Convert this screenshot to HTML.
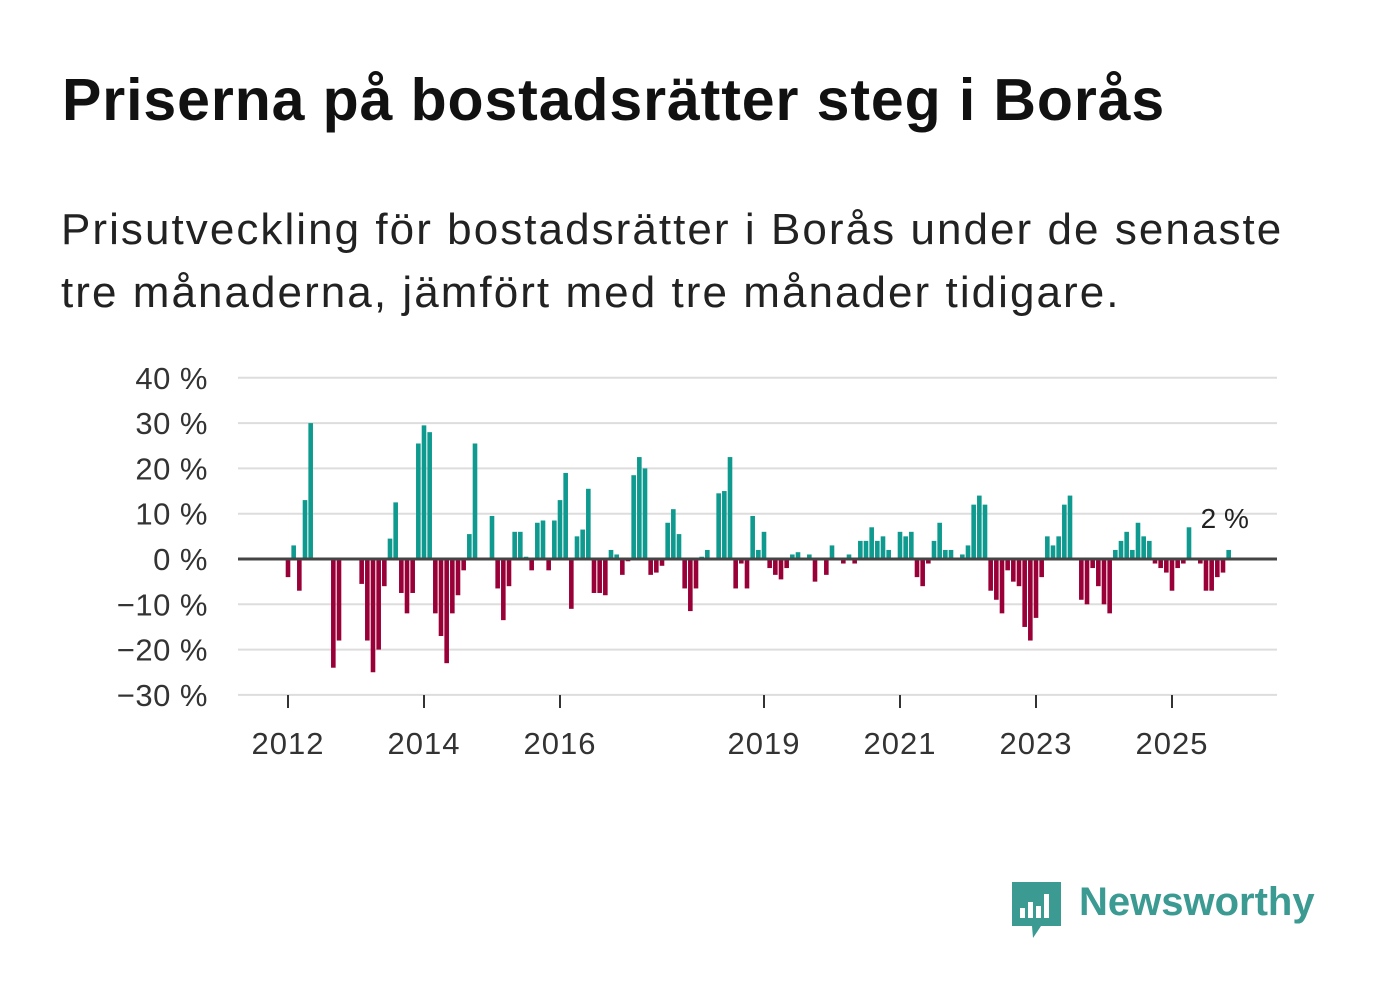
<!DOCTYPE html>
<html><head><meta charset="utf-8"><style>
body{margin:0;background:#fff;font-family:"Liberation Sans","DejaVu Sans",sans-serif;}
#wrap{position:relative;width:1382px;height:999px;overflow:hidden;}
h1{position:absolute;left:62px;top:66px;margin:0;font-size:59px;font-weight:bold;color:#111;letter-spacing:0.9px;white-space:nowrap;}
p{position:absolute;left:61px;top:198px;margin:0;font-size:44px;line-height:63px;color:#222;width:1320px;letter-spacing:2.05px;}
svg text{font-family:"Liberation Sans","DejaVu Sans",sans-serif;}
</style></head><body><div id="wrap">
<h1>Priserna på bostadsrätter steg i Borås</h1>
<p>Prisutveckling för bostadsrätter i Borås under de senaste<br>tre månaderna, jämfört med tre månader tidigare.</p>
<svg id="chart" width="1382" height="999" style="position:absolute;left:0;top:0"></svg>
<div style="position:absolute;left:1012px;top:880px;">
<svg width="50" height="60"><path d="M0 2 h49 v44 h-20 l-8 12 l-1-12 h-20z" fill="#3b9a92"/><rect x="8" y="28" width="5" height="10" fill="#fff"/><rect x="16" y="22" width="5" height="16" fill="#fff"/><rect x="24" y="26" width="5" height="12" fill="#fff"/><rect x="32" y="14" width="5" height="24" fill="#fff"/></svg>
<span style="position:absolute;left:67px;top:0;font-size:40px;font-weight:bold;color:#3b9a92;white-space:nowrap;">Newsworthy</span></div>
</div>
<script>
const values=[-4,3,-7,13,30,0,0,0,-24,-18,0,0,0,-5.5,-18,-25,-20,-6,4.5,12.5,-7.5,-12,-7.5,25.5,29.5,28,-12,-17,-23,-12,-8,-2.5,5.5,25.5,0,0,9.5,-6.5,-13.5,-6,6,6,0.5,-2.5,8,8.5,-2.5,8.5,13,19,-11,5,6.5,15.5,-7.5,-7.5,-8,2,1,-3.5,-0.5,18.5,22.5,20,-3.5,-3,-1.5,8,11,5.5,-6.5,-11.5,-6.5,0.5,2,0,14.5,15,22.5,-6.5,-1,-6.5,9.5,2,6,-2,-3.5,-4.5,-2,1,1.5,0,1,-5,0,-3.5,3,0,-1,1,-1,4,4,7,4,5,2,0,6,5,6,-4,-6,-1,4,8,2,2,0,1,3,12,14,12,-7,-9,-12,-2.5,-5,-6,-15,-18,-13,-4,5,3,5,12,14,0,-9,-10,-2,-6,-10,-12,2,4,6,2,8,5,4,-1,-2,-3,-7,-2,-1,7,0,-1,-7,-7,-4,-3,2];
const yTicks=[40,30,20,10,0,-10,-20,-30];
const xYears=[2012,2014,2016,2019,2021,2023,2025];
const startYear=2012;
const svg=document.getElementById('chart');
const NS='http://www.w3.org/2000/svg';
const y=v=>559-v*4.53;
const x=m=>288+m*(68/12);
const xy=yr=>x((yr-startYear)*12);
function mk(t,a){const e=document.createElementNS(NS,t);for(const k in a)e.setAttribute(k,a[k]);svg.appendChild(e);return e;}
yTicks.forEach(t=>{
 if(t!==0){const l=mk('line',{x1:238,x2:1277,y1:y(t),y2:y(t),stroke:'#ddd','stroke-width':2});
 
 }
 const tx=mk('text',{x:208,y:y(t)+11,'text-anchor':'end','font-size':31,fill:'#333','letter-spacing':'0.5'});
 tx.textContent=(t<0?'\u2212'+(-t):t)+' %';
 
 
});
values.forEach((v,i)=>{
 if(v===0)return;
 const r=mk('rect',{x:x(i)-2.3,width:4.6,y:Math.min(y(v),y(0)),height:Math.abs(y(v)-y(0)),fill:v>0?'#0f9a8f':'#990038'});
 
 
});
const z=mk('line',{x1:238,x2:1277,y1:y(0),y2:y(0),stroke:'#444','stroke-width':3});


xYears.forEach(yr=>{
 const tk=mk('line',{x1:xy(yr),x2:xy(yr),y1:695,y2:708,stroke:'#333','stroke-width':2});
 
 
 const t=mk('text',{x:xy(yr),y:754,'text-anchor':'middle','font-size':31,fill:'#333','letter-spacing':'1'});
 t.textContent=yr;
 
 
});
const last=values.length-1;
const lbl=mk('text',{x:x(last)-28,y:528,'font-size':28,fill:'#222'});
lbl.textContent=values[last]+' %';


</script>
</body></html>
